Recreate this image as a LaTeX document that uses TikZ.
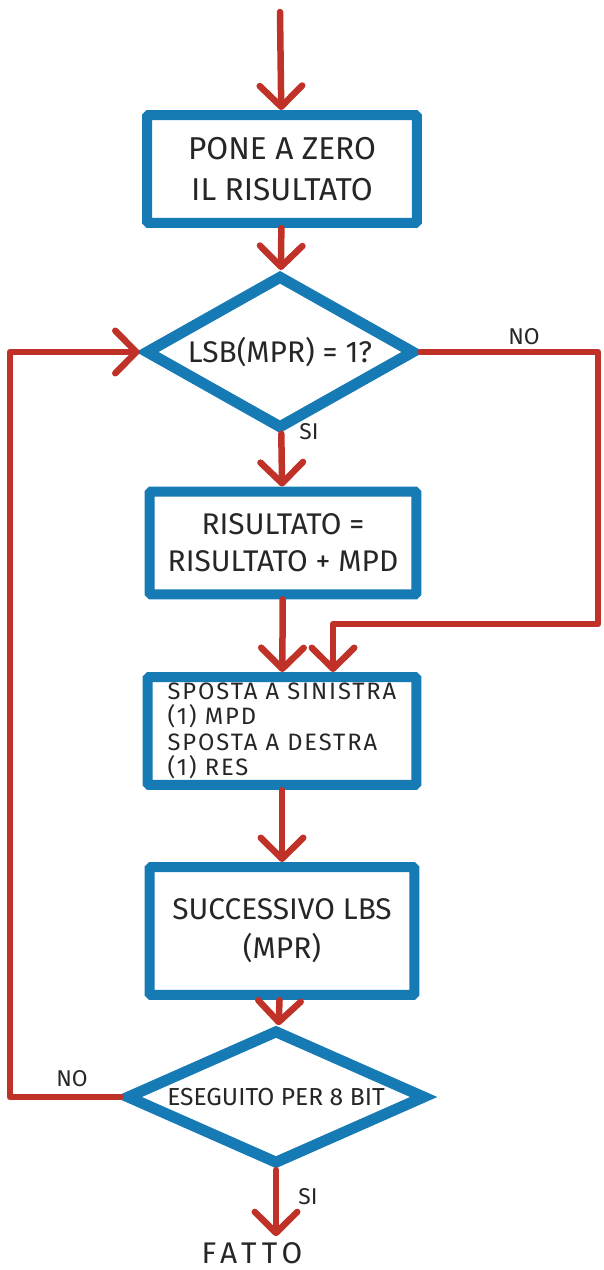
\documentclass[tikz,border=0pt]{standalone}
\usepackage{fontspec}
\setmainfont{Fira Sans}
\usepackage{xcolor}
\usetikzlibrary{shapes.geometric,arrows.meta}
\definecolor{boxblue}{RGB}{22,122,181}
\definecolor{flowred}{RGB}{192,50,40}

\begin{document}
\begin{tikzpicture}[x=0.02cm, y=-0.02cm,
    box/.style={rectangle, draw=boxblue, line width=0.2cm, fill=white, align=center, text=black!85, rounded corners=1pt},
    test/.style={diamond, aspect=2, inner sep=0pt, draw=boxblue, line width=0.22cm, fill=white, align=center, text=black!85},
    flow/.style={draw=flowred, line width=0.13cm, line cap=round, line join=round},
    arr/.style={flow, -{Straight Barb[round, length=0.42cm, width=0.85cm]}},
    lbl/.style={text=black!85, font=\fontsize{13}{15}\selectfont}]
    \useasboundingbox (0,0) rectangle (604,1270);

    % blocchi
    \node[box, minimum width=5.4cm, minimum height=2.16cm, font=\fontsize{18}{23}\selectfont] (azzera) at (282,169) {PONE A ZERO\\IL RISULTATO};
    \node[test, minimum width=5.4cm, minimum height=3.08cm, font=\fontsize{17}{20}\selectfont] (lsb) at (280,352) {LSB(MPR) = 1?};
    \node[box, minimum width=5.34cm, minimum height=2.06cm, font=\fontsize{17}{21}\selectfont] (somma) at (283,543) {RISULTATO =\\RISULTATO + MPD};
    \node[box, minimum width=5.38cm, minimum height=2.16cm, inner sep=0pt, align=left, font=\fontsize{13.5}{14.5}\selectfont\addfontfeature{LetterSpace=8}] (sposta) at (282,731) {SPOSTA A SINISTRA\\(1) MPD\\SPOSTA A DESTRA\\(1) RES};
    \node[box, minimum width=5.3cm, minimum height=2.56cm, font=\fontsize{17}{22}\selectfont] (succ) at (282,931) {SUCCESSIVO LBS\\(MPR)};
    \node[test, minimum width=6cm, minimum height=2.7cm, font=\fontsize{14}{16}\selectfont] (otto) at (276,1097) {ESEGUITO PER 8 BIT};
    \node[text=black!85, font=\fontsize{17}{20}\selectfont\addfontfeature{LetterSpace=18}] (fatto) at (252,1253) {FATTO};

    % punti dei rami
    \coordinate (inizio) at (280,12);
    \coordinate (nodx) at (598,352);
    \coordinate (nobasso) at (598,624);
    \coordinate (nosx) at (333,624);
    \coordinate (ritorno) at (10,0);

    % frecce
    \draw[arr] (inizio) -- (azzera);
    \draw[arr] (azzera) -- (lsb);
    \draw[arr] (lsb) -- (somma);
    \draw[arr] (somma) -- (sposta);
    \draw[arr] (sposta) -- (succ);
    \draw[arr] (succ) -- (otto);
    \draw[arr] (otto.south) -- (otto.south |- fatto.north);
    \draw[arr] (lsb.east) -- (nodx) -- (nobasso) -- (nosx) -- (nosx |- sposta.north);
    \draw[arr] (otto.west) -- (otto.west -| ritorno) -- (ritorno |- lsb.west) -- (lsb.west);

    % etichette
    \node[lbl] (no1) at (524,337) {NO};
    \node[lbl] (si1) at (309,432) {SI};
    \node[lbl] (no2) at (72,1079) {NO};
    \node[lbl] (si2) at (308,1197) {SI};
\end{tikzpicture}
\end{document}
